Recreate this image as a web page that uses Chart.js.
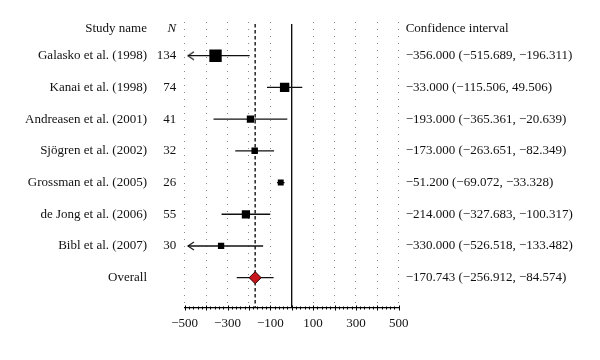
<!DOCTYPE html>
<html>
<head>
<meta charset="utf-8">
<script src="https://cdn.jsdelivr.net/npm/chart.js@4.4.1/dist/chart.umd.min.js"></script>
<style>
  body { margin: 0; background: #fff; }
  #wrap { width: 600px; height: 360px; }
</style>
</head>
<body>
<div id="wrap"><canvas id="forest" width="600" height="360"></canvas></div>
<script>
// data
const studies = ['Galasko et al. (1998)', 'Kanai et al. (1998)', 'Andreasen et al. (2001)', 'Sjögren et al. (2002)',
                 'Grossman et al. (2005)', 'de Jong et al. (2006)', 'Bibl et al. (2007)'];
const sampleSizes = [134, 74, 41, 32, 26, 55, 30];
const effects = [-356.000, -33.000, -193.000, -173.000, -51.200, -214.000, -330.000];
const lowerCI = [-515.689, -115.506, -365.361, -263.651, -69.072, -327.683, -526.518];
const upperCI = [-196.311, 49.506, -20.639, -82.349, -33.328, -100.317, -133.482];
const overallEffect = -170.743;
const overallLower = -256.912;
const overallUpper = -84.574;
const headerLabels = ['Study name', 'N', 'Confidence interval'];
const xTickLabels = [-500, -300, -100, 100, 300, 500];

// layout
const xMin = -500, xMax = 500;
const yMin = -0.063, yMax = 8.94;
const headerRow = 0.15;
const overallRow = studies.length + 1;
const arrowTip = -485;     // where clipped intervals end with an arrow
const serif = "'Liberation Serif', 'DejaVu Serif', serif";

function minus(s) { return s.replace(/-/g, '\u2212'); }
function ciText(e, lo, hi) {
    return minus(e.toFixed(3) + ' (' + lo.toFixed(3) + ', ' + hi.toFixed(3) + ')');
}

const rowValues = [headerRow].concat(studies.map((s, i) => i + 1), [overallRow]);
const nameLabels = [headerLabels[0]].concat(studies, ['Overall']);
const nLabels = [headerLabels[1]].concat(sampleSizes.map(String), ['']);
const ciLabels = [headerLabels[2]]
    .concat(effects.map((e, i) => ciText(e, lowerCI[i], upperCI[i])), [ciText(overallEffect, overallLower, overallUpper)]);

// open arrow head, tip in the centre of the canvas
const arrowHead = document.createElement('canvas');
arrowHead.width = 14;
arrowHead.height = 10;
(function () {
    const c = arrowHead.getContext('2d');
    c.strokeStyle = '#111';
    c.lineWidth = 1.1;
    c.beginPath();
    c.moveTo(13, 1);
    c.lineTo(7, 5);
    c.lineTo(13, 9);
    c.stroke();
})();

function ciLine(lo, hi, row) {
    const clipped = lo < xMin;
    return {
        showLine: true,
        data: [{ x: clipped ? arrowTip : lo, y: row }, { x: hi, y: row }],
        borderColor: '#111',
        borderWidth: 1.3,
        pointStyle: [clipped ? arrowHead : 'circle', 'circle'],
        pointRadius: [clipped ? 1 : 0, 0],
        order: 2
    };
}

const datasets = studies.map((s, i) => ciLine(lowerCI[i], upperCI[i], i + 1));
datasets.push(ciLine(overallLower, overallUpper, overallRow));

// study squares, side grows with N
datasets.push({
    data: effects.map((e, i) => ({ x: e, y: i + 1 })),
    pointStyle: 'rect',
    pointRadius: sampleSizes.map(n => (Math.sqrt(n) + 0.8) / Math.SQRT2),
    backgroundColor: '#000',
    borderWidth: 0,
    order: 0
});

// overall diamond
datasets.push({
    data: [{ x: overallEffect, y: overallRow }],
    pointStyle: 'rectRot',
    pointRadius: 6,
    backgroundColor: '#c8161d',
    borderColor: '#2a0000',
    borderWidth: 1,
    order: 0
});

// no-effect line and overall dashed line
datasets.push({
    showLine: true,
    data: [{ x: 0, y: 0 }, { x: 0, y: yMax }],
    borderColor: '#000',
    borderWidth: 1.3,
    pointRadius: 0,
    order: 3
});
datasets.push({
    showLine: true,
    data: [{ x: overallEffect, y: 0 }, { x: overallEffect, y: yMax }],
    borderColor: '#222',
    borderWidth: 1.5,
    borderDash: [3.5, 2.5],
    pointRadius: 0,
    order: 3
});

function setRows(scale) {
    scale.ticks = rowValues.map(v => ({ value: v }));
}

function rowAxis(position, weight, width, padding, labels, font) {
    return {
        type: 'linear',
        position: position,
        weight: weight,
        reverse: true,
        min: yMin,
        max: yMax,
        grid: { display: false, drawTicks: false },
        border: { display: false },
        afterBuildTicks: setRows,
        afterFit: s => { s.width = width; },
        ticks: {
            autoSkip: false,
            padding: padding,
            color: '#111',
            font: font,
            callback: (v, i) => labels[i]
        }
    };
}

// small ticks every 20 across the axis line
const minorTicks = {
    id: 'minorTicks',
    afterDraw(chart) {
        const x = chart.scales.x;
        const ctx = chart.ctx;
        const y0 = Math.round(x.top) + 0.5;
        ctx.save();
        ctx.strokeStyle = '#000';
        ctx.lineWidth = 1;
        for (let v = xMin; v <= xMax; v += 20) {
            const px = Math.round(x.getPixelForValue(v)) + 0.5;
            const major = v % 100 === 0;
            ctx.beginPath();
            ctx.moveTo(px, y0 - (major ? 3 : 2));
            ctx.lineTo(px, y0 + (major ? 2 : 1));
            ctx.stroke();
        }
        ctx.restore();
    }
};

new Chart(document.getElementById('forest'), {
    type: 'scatter',
    data: { datasets: datasets },
    plugins: [minorTicks],
    options: {
        responsive: false,
        animation: false,
        devicePixelRatio: 1,
        layout: { padding: { top: 22, left: 0, right: 0, bottom: 0 } },
        plugins: { legend: { display: false }, tooltip: { enabled: false } },
        scales: {
            x: {
                type: 'linear',
                position: 'bottom',
                min: xMin,
                max: xMax,
                afterFit: s => { s.height = 52.5; },
                grid: {
                    color: ctx => (ctx.tick && ctx.tick.value === 0) ? 'rgba(0,0,0,0)' : '#8a8a8a',
                    lineWidth: 1,
                    drawTicks: false
                },
                border: { display: true, color: '#000', width: 1.2, dash: [1, 6] },
                ticks: {
                    stepSize: 100,
                    autoSkip: false,
                    maxRotation: 0,
                    minRotation: 0,
                    padding: 8,
                    color: '#111',
                    font: { family: serif, size: 13 },
                    callback: v => xTickLabels.includes(v) ? minus(String(v)) : ''
                }
            },
            y: rowAxis('left', 2, 155, 8, nameLabels, { family: serif, size: 13 }),
            yN: rowAxis('left', 1, 29.7, 8.5, nLabels,
                ctx => ({ family: serif, size: 13, style: ctx.index === 0 ? 'italic' : 'normal' })),
            yCI: rowAxis('right', 1, 201.3, 7, ciLabels, { family: serif, size: 13 })
        }
    }
});
</script>
</body>
</html>
